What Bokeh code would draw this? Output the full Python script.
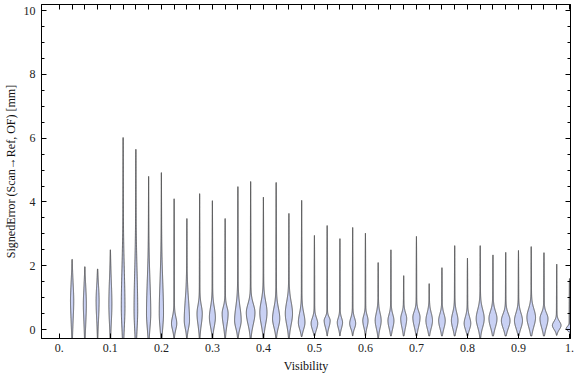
import numpy as np
from bokeh.plotting import figure
from bokeh.models import LinearAxis, FixedTicker, Range1d, CustomJSTickFormatter
from bokeh.embed import file_html
from bokeh.resources import INLINE

# ---- data (one violin per visibility bin) ----
visibility = [0.025, 0.05, 0.075, 0.1, 0.125, 0.15, 0.175, 0.2, 0.225, 0.25,
              0.275, 0.3, 0.325, 0.35, 0.375, 0.4, 0.425, 0.45, 0.475, 0.5,
              0.525, 0.55, 0.575, 0.6, 0.625, 0.65, 0.675, 0.7, 0.725, 0.75,
              0.775, 0.8, 0.825, 0.85, 0.875, 0.9, 0.925, 0.95, 0.975, 1.0]
# maximum signed error per bin [mm]
err_max = [2.20, 1.97, 1.90, 2.50, 6.02, 5.65, 4.80, 4.92, 4.10, 3.48,
           4.26, 4.04, 3.48, 4.48, 4.64, 4.15, 4.61, 3.64, 4.05, 2.95,
           3.26, 2.85, 3.20, 3.02, 2.10, 2.50, 1.69, 2.92, 1.44, 1.94,
           2.63, 2.24, 2.63, 2.34, 2.42, 2.48, 2.60, 2.41, 2.05, 1.60]
# minimum signed error per bin [mm]
err_min = [-0.72, -0.75, -0.34, -0.75, -1.47, -1.32, -0.85, -0.72, -0.56, -0.47,
           -0.47, -0.47, -0.45, -0.45, -0.42, -0.42, -0.40, -0.45, -0.22, -0.20,
           -0.20, -0.20, -0.20, -0.20, -0.43, -0.20, -0.20, -0.20, -0.20, -0.20,
           -0.20, -0.20, -0.43, -0.20, -0.20, -0.20, -0.20, -0.20, -0.18, -0.08]
# most frequent error (widest point of each violin) [mm]
err_mode = [0.90, 0.80, 0.90, 0.80, 0.70, 0.60, 0.50, 0.50, 0.19, 0.28,
            0.50, 0.38, 0.50, 0.28, 0.53, 0.53, 0.34, 0.50, 0.22, 0.19,
            0.28, 0.22, 0.19, 0.28, 0.28, 0.28, 0.34, 0.38, 0.28, 0.28,
            0.28, 0.19, 0.34, 0.34, 0.28, 0.28, 0.38, 0.34, 0.13, 0.03]
# lower / upper end of the dense body of each violin [mm]
body_lo = [-0.30, -0.30, -0.20, -0.30, -0.60, -0.60, -0.40, -0.40, -0.19, -0.19,
           -0.19, -0.19, -0.19, -0.19, -0.19, -0.19, -0.19, -0.19, -0.19, -0.19,
           -0.12, -0.12, -0.12, -0.12, -0.19, -0.19, -0.19, -0.19, -0.19, -0.19,
           -0.19, -0.19, -0.19, -0.19, -0.19, -0.19, -0.19, -0.19, -0.12, -0.09]
body_hi = [2.00, 1.80, 1.80, 2.20, 3.00, 3.00, 2.50, 2.50, 0.60, 1.54,
           1.00, 1.00, 0.90, 1.13, 1.07, 1.22, 1.00, 1.22, 0.80, 0.53,
           0.50, 0.50, 0.53, 0.60, 0.75, 0.66, 0.69, 0.75, 0.75, 0.69,
           0.75, 0.60, 0.90, 0.80, 0.69, 0.75, 0.90, 0.69, 0.38, 0.16]
# peak density half-width (in visibility units)
peak_width = [0.0025, 0.0023, 0.0023, 0.0023, 0.0029, 0.0029, 0.0035, 0.0035, 0.0045, 0.0045,
              0.0045, 0.0052, 0.0052, 0.0058, 0.0078, 0.0064, 0.0064, 0.0064, 0.0058, 0.0058,
              0.0052, 0.0045, 0.0052, 0.0045, 0.0052, 0.0052, 0.0052, 0.0064, 0.0058, 0.0058,
              0.0058, 0.0058, 0.0072, 0.0072, 0.0078, 0.0072, 0.0078, 0.0072, 0.0078, 0.0058]

x_ticks = [0, 0.1, 0.2, 0.3, 0.4, 0.5, 0.6, 0.7, 0.8, 0.9, 1]
x_labels = ["0.", "0.1", "0.2", "0.3", "0.4", "0.5", "0.6", "0.7", "0.8", "0.9", "1."]
y_ticks = [0, 2, 4, 6, 8, 10]
y_minor = [0.5, 1, 1.5, 2.5, 3, 3.5, 4.5, 5, 5.5, 6.5, 7, 7.5, 8.5, 9, 9.5]

# ---- build violin outlines ----
spike = 0.0007
xs_all, ys_all = [], []
for xc, lo, hi, m, blo, bhi, w in zip(visibility, err_min, err_max, err_mode,
                                       body_lo, body_hi, peak_width):
    y = np.linspace(lo, hi, 300)
    d = y - m
    s = np.where(d > 0, (bhi - m) / 2.0, (m - blo) / 2.0)
    g = w * np.exp(-0.5 * (d / s) ** 2)
    taper = np.where(d > 0, (hi - y) / (hi - m), (y - lo) / (m - lo))
    hw = g + spike * np.clip(taper, 0, 1) ** 0.5
    xs_all.append(np.concatenate([xc - hw, (xc + hw)[::-1]]).tolist())
    ys_all.append(np.concatenate([y, y[::-1]]).tolist())

p = figure(width=576, height=377, output_backend="svg", toolbar_location=None,
           x_range=Range1d(-0.035, 1.002), y_range=Range1d(-0.28, 10.19),
           min_border_left=36, min_border_right=6, min_border_top=4, min_border_bottom=39)
p.background_fill_color = "white"
p.border_fill_color = "white"
p.outline_line_color = "black"
p.outline_line_width = 1
p.xgrid.visible = False
p.ygrid.visible = False

p.patches(xs_all, ys_all, fill_color="#c9d1f4", line_color="#4a4a4a", line_width=0.9)

font = "Liberation Serif"

xa = p.xaxis[0]
xa.ticker = FixedTicker(ticks=x_ticks, minor_ticks=[])
xa.major_label_overrides = {t: l for t, l in zip(x_ticks, x_labels)}
xa.axis_label = "Visibility"
xa.major_label_standoff = 5
xa.axis_label_standoff = 4

ya = p.yaxis[0]
ya.ticker = FixedTicker(ticks=y_ticks, minor_ticks=y_minor)
ya.axis_label = "SignedError (Scan\u2192Ref, OF) [mm]"
ya.major_label_standoff = 6
ya.axis_label_standoff = 3

for ax in (xa, ya):
    ax.major_tick_in = 5
    ax.major_tick_out = 0
    ax.minor_tick_in = 3
    ax.minor_tick_out = 0
    ax.axis_line_color = "black"
    ax.major_tick_line_color = "black"
    ax.minor_tick_line_color = "black"
    ax.major_label_text_font = font
    ax.major_label_text_font_size = "12px"
    ax.major_label_text_color = "#222222"
    ax.axis_label_text_font = font
    ax.axis_label_text_font_size = "12px"
    ax.axis_label_text_font_style = "normal"
    ax.axis_label_text_color = "#111111"

blank = CustomJSTickFormatter(code="return '';")
top = LinearAxis(ticker=FixedTicker(ticks=[0.0] + visibility, minor_ticks=[]), formatter=blank)
right = LinearAxis(ticker=FixedTicker(ticks=y_ticks, minor_ticks=y_minor), formatter=blank)
for ax in (top, right):
    ax.major_tick_in = 5
    ax.major_tick_out = 0
    ax.minor_tick_in = 3
    ax.minor_tick_out = 0
    ax.major_label_standoff = 0
    ax.axis_label_standoff = 0
    ax.axis_line_color = "black"
    ax.major_tick_line_color = "black"
    ax.minor_tick_line_color = "black"
p.add_layout(top, "above")
p.add_layout(right, "right")

open("out.html", "w").write(file_html(p, INLINE))
